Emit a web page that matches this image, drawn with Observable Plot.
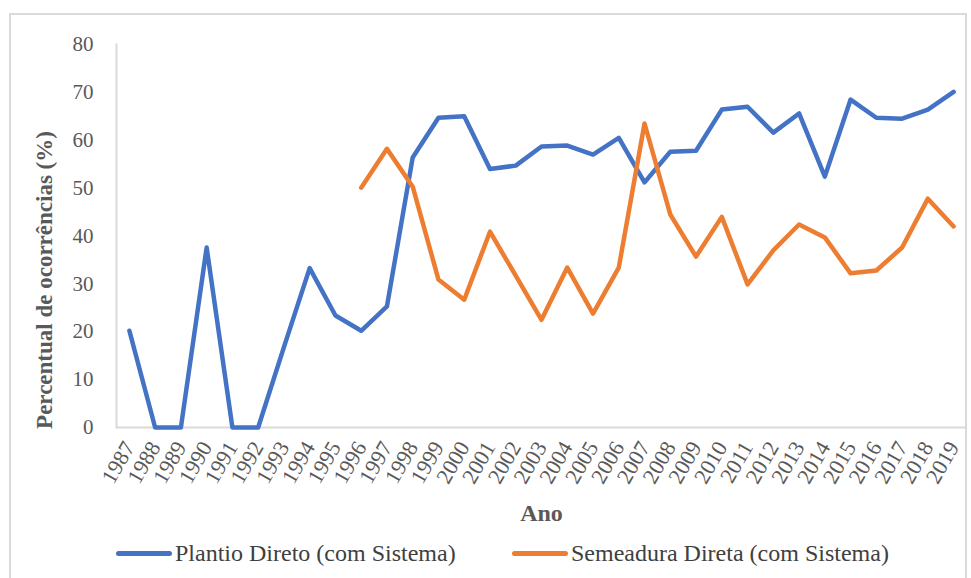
<!DOCTYPE html>
<html>
<head>
<meta charset="utf-8">
<script src="https://cdn.jsdelivr.net/npm/d3@7"></script>
<script src="https://cdn.jsdelivr.net/npm/@observablehq/plot@0.6"></script>
<style>
  html, body { margin: 0; padding: 0; background: #fff; }
  #wrap { position: relative; width: 971px; height: 578px; overflow: hidden; }
  #border { position: absolute; left: 9px; top: 13px; width: 958px; height: 570px; border: 2px solid #d9d9d9; box-sizing: border-box; }
  #chart { position: absolute; left: 0; top: 0; }
  .leg { position: absolute; top: 538px; font-family: "Liberation Serif", "Times New Roman", serif; font-size: 24px; color: #404040; display: flex; align-items: center; white-space: nowrap; line-height: 30px; }
  .sw { display: inline-block; width: 56px; height: 5px; margin-right: 3px; border-radius: 2.5px; }
</style>
</head>
<body>
<div id="wrap">
  <div id="border"></div>
  <div id="chart"></div>
  <div class="leg" style="left:116px"><span class="sw" style="background:#4472C4"></span><span>Plantio Direto (com Sistema)</span></div>
  <div class="leg" style="left:512px"><span class="sw" style="background:#ED7D31"></span><span>Semeadura Direta (com Sistema)</span></div>
</div>
<script>
const years = ["1987","1988","1989","1990","1991","1992","1993","1994","1995","1996","1997","1998","1999","2000","2001","2002","2003","2004","2005","2006","2007","2008","2009","2010","2011","2012","2013","2014","2015","2016","2017","2018","2019"];
const plantio = [20.2,0,0,37.6,0,0,16.8,33.3,23.4,20.2,25.3,56.4,64.7,65,54,54.7,58.7,58.9,57,60.5,51.2,57.6,57.8,66.4,67,61.6,65.6,52.4,68.5,64.7,64.5,66.4,70.1];
const semeadura = [null,null,null,null,null,null,null,null,null,50.1,58.2,50.3,30.9,26.7,40.9,31.7,22.5,33.4,23.8,33.4,63.5,44.5,35.7,44,29.9,37,42.4,39.7,32.2,32.8,37.6,47.8,42];
const seriesNames = ["Plantio Direto (com Sistema)", "Semeadura Direta (com Sistema)"];
const seriesColors = ["#4472C4", "#ED7D31"];
const yTicks = [0,10,20,30,40,50,60,70,80];
const xTitle = "Ano";
const yTitle = "Percentual de ocorrências (%)";

const rows = [];
years.forEach((y, i) => {
  rows.push({year: y, value: plantio[i], series: seriesNames[0]});
  if (semeadura[i] != null) rows.push({year: y, value: semeadura[i], series: seriesNames[1]});
});

const chart = Plot.plot({
  width: 971,
  height: 578,
  marginLeft: 116,
  marginRight: 5,
  marginTop: 44,
  marginBottom: 151,
  style: {fontFamily: "Liberation Serif, serif", fontSize: "21px", color: "#595959", background: "transparent", overflow: "visible"},
  x: {type: "point", domain: years, padding: 0.5, round: false, label: null},
  y: {domain: [0, 80], label: null},
  color: {domain: seriesNames, range: seriesColors},
  marks: [
    Plot.frame({anchor: "left", stroke: "#d9d9d9", strokeWidth: 2}),
    Plot.ruleY([0], {stroke: "#d9d9d9", strokeWidth: 2}),
    Plot.axisY({ticks: yTicks, tickSize: 0, tickPadding: 23, fontSize: 21, label: null}),
    Plot.axisX({tickSize: 0, tickRotate: -60, tickPadding: 16, fontSize: 22, label: null}),
    Plot.line(rows, {x: "year", y: "value", z: "series", stroke: "series", strokeWidth: 4.5, strokeLinejoin: "round", strokeLinecap: "round"}),
    Plot.text([xTitle], {frameAnchor: "bottom", dy: 93, fontSize: 24, fontWeight: "bold", fill: "#595959"}),
    Plot.text([yTitle], {frameAnchor: "left", textAnchor: "middle", dx: -72, dy: 44, rotate: -90, fontSize: 23, fontWeight: "bold", fill: "#595959"})
  ]
});
document.getElementById("chart").appendChild(chart);
</script>
</body>
</html>
